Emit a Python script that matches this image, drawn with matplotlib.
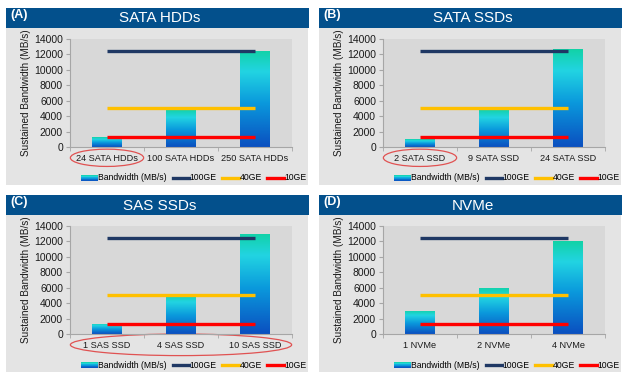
import numpy as np
import matplotlib
matplotlib.use("Agg")
import matplotlib.pyplot as plt
from matplotlib.colors import LinearSegmentedColormap
from matplotlib.patches import Rectangle, Ellipse
from matplotlib.lines import Line2D
from matplotlib.legend_handler import HandlerBase
import matplotlib.transforms as mtransforms

plt.rcParams['font.family'] = ['Liberation Sans', 'DejaVu Sans']

# Data
panel_tags = ['(A)', '(B)', '(C)', '(D)']
panel_titles = ['SATA HDDs', 'SATA SSDs', 'SAS SSDs', 'NVMe']
categories = [
    ['24 SATA HDDs', '100 SATA HDDs', '250 SATA HDDs'],
    ['2 SATA SSD', '9 SATA SSD', '24 SATA SSD'],
    ['1 SAS SSD', '4 SAS SSD', '10 SAS SSD'],
    ['1 NVMe', '2 NVMe', '4 NVMe'],
]
bandwidth = [
    [1250, 4900, 12500],
    [1000, 4800, 12700],
    [1300, 5200, 13000],
    [3000, 6000, 12000],
]
net_names = ['100GE', '40GE', '10GE']
net_values = [12500, 5000, 1250]
net_colors = ['#1f3864', '#ffc000', '#ff0000']
yticks = [0, 2000, 4000, 6000, 8000, 10000, 12000, 14000]

W, H = 624, 374
fig = plt.figure(figsize=(W / 100, H / 100), dpi=100)
fig.patch.set_facecolor('white')

cmap = LinearSegmentedColormap.from_list(
    'bw', [(0.0, '#0a4fc0'), (0.45, '#0a98dc'), (0.78, '#22d4e2'), (1.0, '#12d2a6')])


def fx(x):
    return x / W


def fy(y):
    return 1 - y / H


class GradHandler(HandlerBase):
    def create_artists(self, legend, orig, xd, yd, width, height, fontsize, trans):
        n = 8
        arts = []
        for i in range(n):
            r = Rectangle((xd, yd + height * i / n), width, height / n,
                          facecolor=cmap((i + 0.5) / n), edgecolor='none', transform=trans)
            arts.append(r)
        return arts


offsets = [(0, 0), (313, 0), (0, 187), (313, 187)]
circled = [[0], [0], [0, 1, 2], []]

for k in range(4):
    ox, oy = offsets[k]
    # header bar and gray panel
    fig.patches.append(Rectangle((fx(ox + 6), fy(oy + 28)), fx(303), 20 / H,
                                 transform=fig.transFigure, facecolor='#03508c',
                                 edgecolor='none', zorder=-2))
    fig.patches.append(Rectangle((fx(ox + 6), fy(oy + 185)), fx(302), 157 / H,
                                 transform=fig.transFigure, facecolor='#e4e4e4',
                                 edgecolor='none', zorder=-2))
    fig.text(fx(ox + 10), fy(oy + 15), panel_tags[k], color='white', fontsize=9,
             fontweight='bold', va='center', ha='left')
    fig.text(fx(ox + 160), fy(oy + 18.5), panel_titles[k], color='white', fontsize=11,
             va='center', ha='center')

    ax = fig.add_axes([fx(ox + 70), fy(oy + 147), fx(222), 108 / H])
    ax.set_zorder(1)
    ax.set_facecolor('#d8d8d8')
    x = np.arange(3)
    vals = bandwidth[k]
    for xi, v in zip(x, vals):
        rect = Rectangle((xi - 0.2, 0), 0.4, v, facecolor='none', edgecolor='none')
        ax.add_patch(rect)
        grad = np.linspace(0, 1, 256).reshape(-1, 1)
        im = ax.imshow(grad, cmap=cmap, origin='lower', aspect='auto',
                       extent=[xi - 0.2, xi + 0.2, 0, v], zorder=2)
        im.set_clip_path(rect)
    for name, val, col in zip(net_names, net_values, net_colors):
        ax.plot(x, [val] * len(x), color=col, lw=2.4, solid_capstyle='butt', zorder=3,
                label=name)

    ax.set_xlim(-0.5, 2.5)
    ax.set_ylim(0, 14000)
    ax.set_yticks(yticks)
    ax.set_yticklabels([str(t) for t in yticks], fontsize=7.5, color='#1a1a1a')
    ax.set_xticks(x)
    ax.set_xticklabels(categories[k], fontsize=6.6, color='#1a1a1a')
    ax.set_xticks([-0.5, 0.5, 1.5, 2.5], minor=True)
    ax.tick_params(axis='x', which='major', length=0, pad=5)
    ax.tick_params(axis='x', which='minor', length=3, color='#a6a6a6')
    ax.tick_params(axis='y', length=3, color='#a6a6a6', pad=2)
    for s in ['top', 'right']:
        ax.spines[s].set_visible(False)
    for s in ['left', 'bottom']:
        ax.spines[s].set_color('#a6a6a6')
        ax.spines[s].set_linewidth(0.8)
    ax.set_ylabel('Sustained Bandwidth (MB/s)', fontsize=7.2, color='#1a1a1a', labelpad=2)

    # red ellipses around highlighted labels
    if circled[k]:
        tr = mtransforms.blended_transform_factory(ax.transData, ax.transAxes)
        c0, c1 = min(circled[k]), max(circled[k])
        cx = (c0 + c1) / 2
        w = (c1 - c0) + 0.99 if c1 > c0 else 0.99
        h = 0.2 if c1 > c0 else 0.16
        ax.add_patch(Ellipse((cx, -0.1), w, h, transform=tr, fill=False,
                             edgecolor='#e05252', lw=0.9, clip_on=False))

    handles = [Rectangle((0, 0), 1, 1)] + [Line2D([], [], color=c, lw=2.4) for c in net_colors]
    labels = ['Bandwidth (MB/s)'] + net_names
    fig.legend(handles, labels, loc='center', ncol=4,
               bbox_to_anchor=(fx(ox + 194), fy(oy + 178)), frameon=False,
               fontsize=6.2, handlelength=1.9, handleheight=0.6, handletextpad=0.1,
               columnspacing=0.65, borderpad=0,
               handler_map={Rectangle: GradHandler()})

fig.savefig('out.png', dpi=100, facecolor='white')
